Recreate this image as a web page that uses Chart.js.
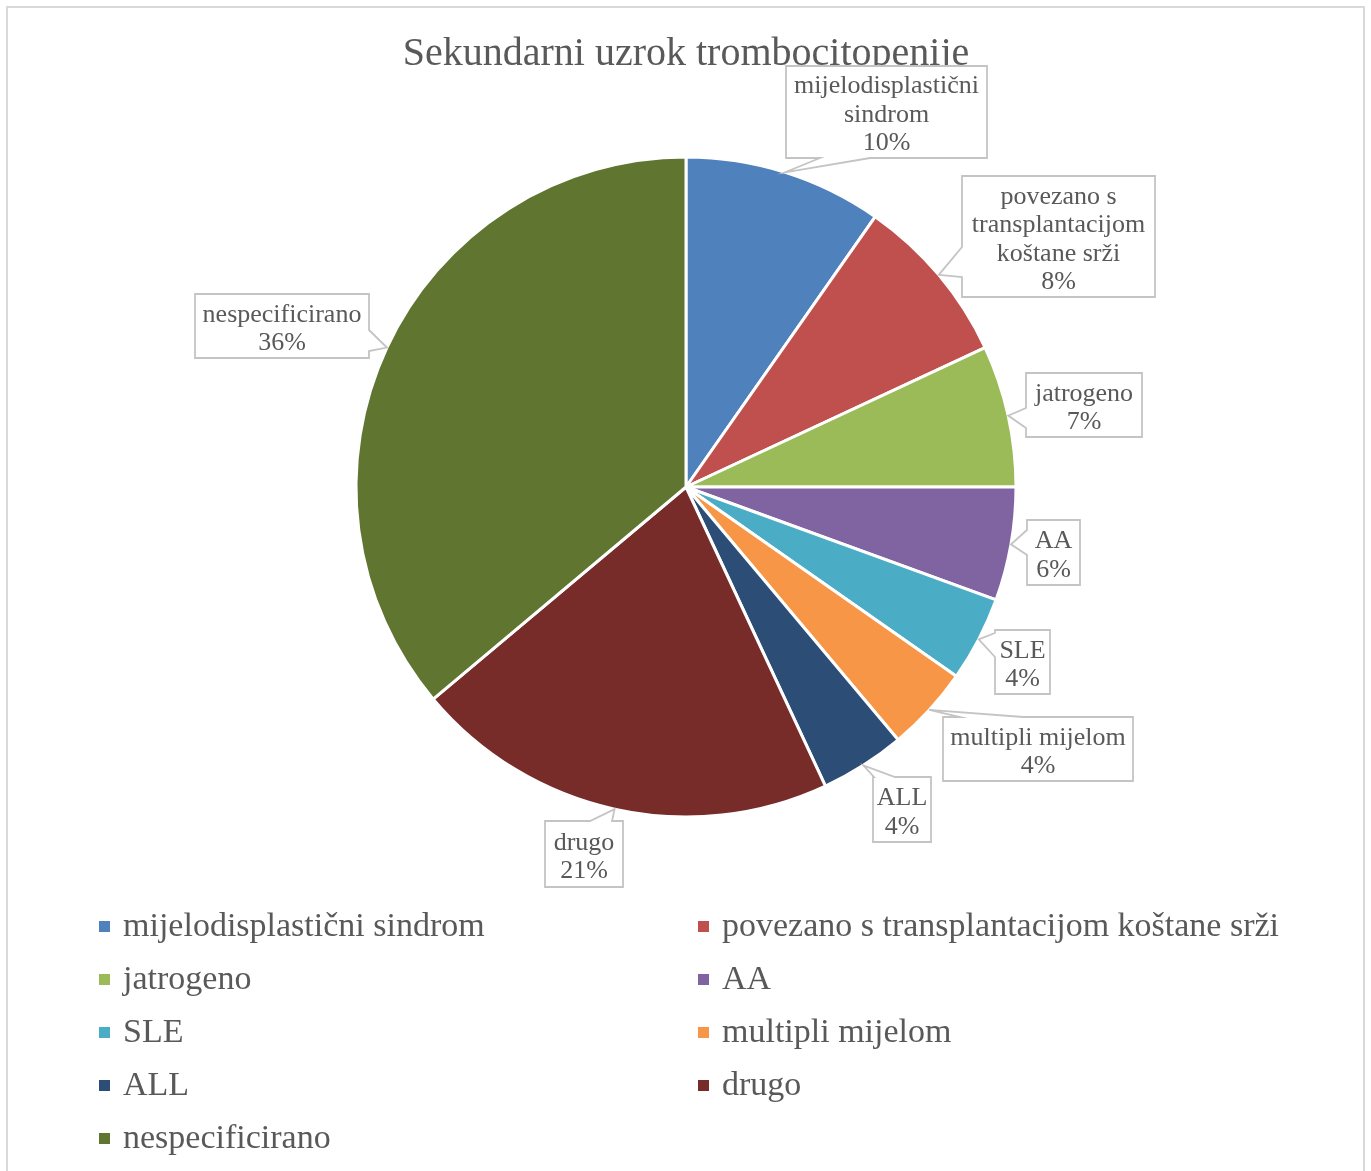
<!DOCTYPE html>
<html>
<head>
<meta charset="utf-8">
<script src="https://cdn.jsdelivr.net/npm/chart.js@4.4.0/dist/chart.umd.min.js"></script>
<style>
html,body{margin:0;padding:0;background:#ffffff;overflow:hidden}
#wrap{position:absolute;left:0;top:0;width:1371px;height:1171px}
</style>
</head>
<body>
<div id="wrap"><canvas id="c" width="1371" height="1171"></canvas></div>
<script>
// ---- data ----
const chartTitle = 'Sekundarni uzrok trombocitopenije';
const categories = ['mijelodisplastični sindrom', 'povezano s transplantacijom koštane srži', 'jatrogeno', 'AA', 'SLE', 'multipli mijelom', 'ALL', 'drugo', 'nespecificirano'];
const counts = [7, 6, 5, 4, 3, 3, 3, 15, 26];
const labelLines = [['mijelodisplastični', 'sindrom'], ['povezano s', 'transplantacijom', 'koštane srži'], ['jatrogeno'], ['AA'], ['SLE'], ['multipli mijelom'], ['ALL'], ['drugo'], ['nespecificirano']];
const colors = ['#4F81BD', '#C0504D', '#9BBB59', '#8064A2', '#4BACC6', '#F79646', '#2C4D75', '#772C2A', '#5F7530'];

// ---- layout of callouts: [x, y, w, h, side, a, b] ----
const calloutBoxes = [
  [786, 66, 201, 92, 'bottom', 820, 870],
  [962, 176, 193, 121, 'left', 247, 277],
  [1026, 373, 116, 64, 'left', 408, 428],
  [1027, 520, 53, 65, 'left', 530, 555],
  [995, 630, 55, 64, 'left', 633, 657],
  [943, 717, 190, 64, 'top', 960, 1023],
  [873, 777, 58, 65, 'top', 874, 895],
  [545, 821, 78, 66, 'top', 590, 612],
  [195, 294, 174, 64, 'right', 330, 351]
];

const TEXT = '#595959';
const FONT = '"Liberation Serif", "Times New Roman", serif';
const total = counts.reduce((a, b) => a + b, 0);

const overlay = {
  id: 'overlay',
  beforeDraw(chart) {
    const ctx = chart.ctx;
    ctx.save();
    ctx.fillStyle = '#ffffff';
    ctx.fillRect(0, 0, chart.width, chart.height);
    ctx.strokeStyle = '#d9d9d9';
    ctx.lineWidth = 2;
    ctx.beginPath();
    ctx.moveTo(7, 1180);
    ctx.lineTo(7, 7);
    ctx.lineTo(1364, 7);
    ctx.lineTo(1364, 1180);
    ctx.stroke();
    // title
    ctx.fillStyle = TEXT;
    ctx.font = '40px ' + FONT;
    ctx.textAlign = 'center';
    ctx.textBaseline = 'alphabetic';
    ctx.fillText(chartTitle, 686, 65);
    ctx.restore();
  },
  afterDraw(chart) {
    const ctx = chart.ctx;
    const meta = chart.getDatasetMeta(0);
    ctx.save();
    meta.data.forEach((arc, i) => {
      const p = arc.getProps(['x', 'y', 'startAngle', 'endAngle', 'outerRadius'], true);
      const mid = (p.startAngle + p.endAngle) / 2;
      const tx = p.x + Math.cos(mid) * p.outerRadius;
      const ty = p.y + Math.sin(mid) * p.outerRadius;
      const [x, y, w, h, side, a, b] = calloutBoxes[i];
      ctx.beginPath();
      if (side === 'left') {
        ctx.moveTo(x, y); ctx.lineTo(x + w, y); ctx.lineTo(x + w, y + h); ctx.lineTo(x, y + h);
        ctx.lineTo(x, b); ctx.lineTo(tx, ty); ctx.lineTo(x, a);
      } else if (side === 'right') {
        ctx.moveTo(x, y); ctx.lineTo(x + w, y); ctx.lineTo(x + w, a); ctx.lineTo(tx, ty);
        ctx.lineTo(x + w, b); ctx.lineTo(x + w, y + h); ctx.lineTo(x, y + h);
      } else if (side === 'top') {
        ctx.moveTo(x, y); ctx.lineTo(a, y); ctx.lineTo(tx, ty); ctx.lineTo(b, y);
        ctx.lineTo(x + w, y); ctx.lineTo(x + w, y + h); ctx.lineTo(x, y + h);
      } else {
        ctx.moveTo(x, y); ctx.lineTo(x + w, y); ctx.lineTo(x + w, y + h); ctx.lineTo(b, y + h);
        ctx.lineTo(tx, ty); ctx.lineTo(a, y + h); ctx.lineTo(x, y + h);
      }
      ctx.closePath();
      ctx.fillStyle = '#ffffff';
      ctx.fill();
      ctx.strokeStyle = '#c4c4c4';
      ctx.lineWidth = 1.8;
      ctx.stroke();
      const lines = labelLines[i].concat([Math.round(counts[i] / total * 100) + '%']);
      ctx.fillStyle = TEXT;
      ctx.font = '26px ' + FONT;
      ctx.textAlign = 'center';
      ctx.textBaseline = 'middle';
      const cx = x + w / 2, cy = y + h / 2 + 3;
      const lh = 28.5;
      lines.forEach((t, k) => {
        ctx.fillText(t, cx, cy + (k - (lines.length - 1) / 2) * lh);
      });
    });
    // legend
    ctx.font = '34px ' + FONT;
    ctx.textAlign = 'left';
    ctx.textBaseline = 'middle';
    categories.forEach((name, i) => {
      const col = i % 2, row = Math.floor(i / 2);
      const sx = col === 0 ? 99 : 698;
      const cy = 926 + row * 53;
      ctx.fillStyle = colors[i];
      ctx.fillRect(sx, cy - 5, 11, 11);
      ctx.fillStyle = TEXT;
      ctx.fillText(name, sx + 24, cy + 1);
    });
    ctx.restore();
  }
};

new Chart(document.getElementById('c'), {
  type: 'pie',
  data: {
    labels: categories,
    datasets: [{
      data: counts,
      backgroundColor: colors,
      borderColor: '#ffffff',
      borderWidth: 3
    }]
  },
  options: {
    responsive: false,
    animation: false,
    radius: 330,
    layout: { padding: { left: 357, right: 356, top: 158, bottom: 355 } },
    plugins: {
      legend: { display: false },
      title: { display: false },
      tooltip: { enabled: false }
    }
  },
  plugins: [overlay]
});
</script>
</body>
</html>
